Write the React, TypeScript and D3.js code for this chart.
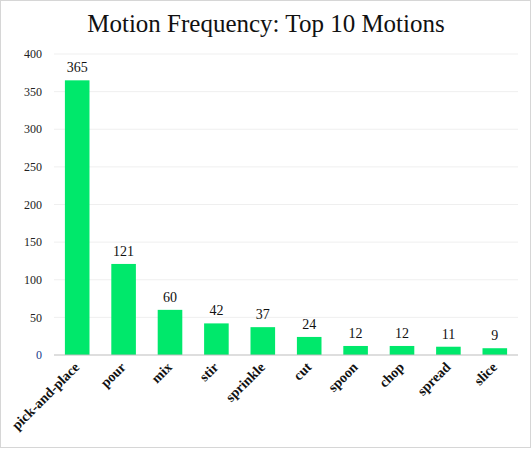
import React from 'react';
import { scaleBand, scaleLinear } from 'd3';

const motions = ['pick-and-place', 'pour', 'mix', 'stir', 'sprinkle', 'cut', 'spoon', 'chop', 'spread', 'slice'];
const counts = [365, 121, 60, 42, 37, 24, 12, 12, 11, 9];
const yTicks = [0, 50, 100, 150, 200, 250, 300, 350, 400];

const W = 532;
const H = 449;
const margin = { top: 54, right: 14, bottom: 94, left: 54 };
const font = '"Liberation Serif", "Times New Roman", serif';

export default function App() {
  const x = scaleBand<string>()
    .domain(motions)
    .range([margin.left, W - margin.right])
    .paddingInner(0.47)
    .paddingOuter(0.235);

  const y = scaleLinear()
    .domain([0, 400])
    .range([H - margin.bottom, margin.top]);

  const y0 = y(0);

  return (
    <svg width={W} height={H} style={{ position: 'absolute', left: 0, top: 0, background: '#fff' }}>
      <rect x={0.5} y={0.5} width={W - 2} height={H - 2} fill="none" stroke="#d6d6d6" />

      <text x={W / 2} y={32} textAnchor="middle" fontFamily={font} fontSize={25} fill="#111">
        Motion Frequency: Top 10 Motions
      </text>

      {/* grid + y tick labels */}
      {yTicks.map(t => (
        <g key={t}>
          {t > 0 && (
            <line x1={margin.left} x2={W - margin.right} y1={y(t)} y2={y(t)} stroke="#efefef" />
          )}
          <text x={42} y={y(t)} dy="0.35em" textAnchor="end" fontFamily={font} fontSize={12}
            fill={t === 0 ? '#1a3a8a' : '#222'}>
            {t}
          </text>
        </g>
      ))}

      {/* bars */}
      {motions.map((m, i) => (
        <g key={m}>
          <rect x={x(m)} y={y(counts[i])} width={x.bandwidth()} height={y0 - y(counts[i])} fill="#00e86b" />
          <text x={x(m)! + x.bandwidth() / 2} y={y(counts[i]) - 8} textAnchor="middle"
            fontFamily={font} fontSize={14} fill="#111">
            {counts[i]}
          </text>
        </g>
      ))}

      <line x1={margin.left} x2={W - margin.right} y1={y0} y2={y0} stroke="#bdbdbd" />

      {/* rotated category labels */}
      {motions.map(m => {
        const cx = x(m)! + x.bandwidth() / 2 + 3;
        return (
          <text key={m} transform={`translate(${cx},${y0 + 13}) rotate(-45)`} textAnchor="end"
            fontFamily={font} fontSize={14} fontWeight="bold" fill="#111">
            {m}
          </text>
        );
      })}
    </svg>
  );
}
